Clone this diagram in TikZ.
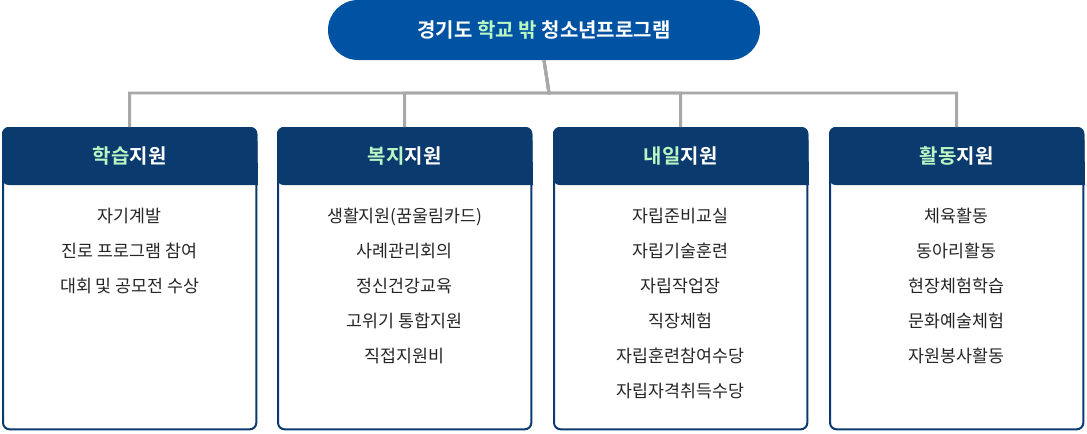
\documentclass[tikz,border=0pt]{standalone}
\usepackage{fontspec}
\newfontfamily\kr{Noto Sans CJK KR}
\newfontfamily\krb{Noto Sans CJK KR Bold}
\definecolor{pillblue}{HTML}{0052A3}
\definecolor{navy}{HTML}{0B3A6E}
\definecolor{mint}{HTML}{B9F6C4}
\definecolor{wire}{HTML}{A8A8A8}
\newcommand{\hl}[1]{\textcolor{mint}{#1}}
\begin{document}
\begin{tikzpicture}[x=0.75pt,y=-0.75pt]
    \tikzset{title/.style={rounded corners=22.5pt,fill=pillblue,text=white,minimum width=324pt,minimum height=45pt,font=\krb\fontsize{15}{18}\selectfont},
             card/.style={draw=navy,line width=1.5pt,rounded corners=5pt,fill=white,minimum width=190pt,minimum height=226pt,anchor=north west},
             head/.style={text=white,font=\krb\fontsize{15}{18}\selectfont},
             items/.style={align=center,anchor=north,font=\kr\fontsize{13}{26.25}\selectfont,text=black!85},
             wires/.style={draw=wire,line width=2.2pt}}
    \useasboundingbox (0,0) rectangle (1087,433);
    \node[title] (top) at (544,30) {경기도 \hl{학교 밖} 청소년프로그램};
    \coordinate (bus) at (549,93);
    \foreach \n/\x/\h/\b in {learn/2/{\hl{학습}지원}/{자기계발\\진로 프로그램 참여\\대회 및 공모전 수상},
                             care/277/{\hl{복지}지원}/{생활지원(꿈울림카드)\\사례관리회의\\정신건강교육\\고위기 통합지원\\직접지원비},
                             future/553/{\hl{내일}지원}/{자립준비교실\\자립기술훈련\\자립작업장\\직장체험\\자립훈련참여수당\\자립자격취득수당},
                             act/829/{\hl{활동}지원}/{체육활동\\동아리활동\\현장체험학습\\문화예술체험\\자원봉사활동}} {
        \node[card] (\n) at (\x,127) {};
        \fill[navy,rounded corners=5pt] (\n.north west) -- ++(0,58) [sharp corners] -- ++(256,0) [rounded corners=5pt] -- (\n.north east) -- cycle;
        \node[head] (\n-h) at ([yshift=-29pt*0.75/0.75*0.75]\n.north) {\h};
        \node[items] (\n-b) at ([yshift=-76pt*0.75]\n.north) {\b};
        \draw[wires] (top.south) -- (bus) -| (\n.north);
    }
\end{tikzpicture}
\end{document}
